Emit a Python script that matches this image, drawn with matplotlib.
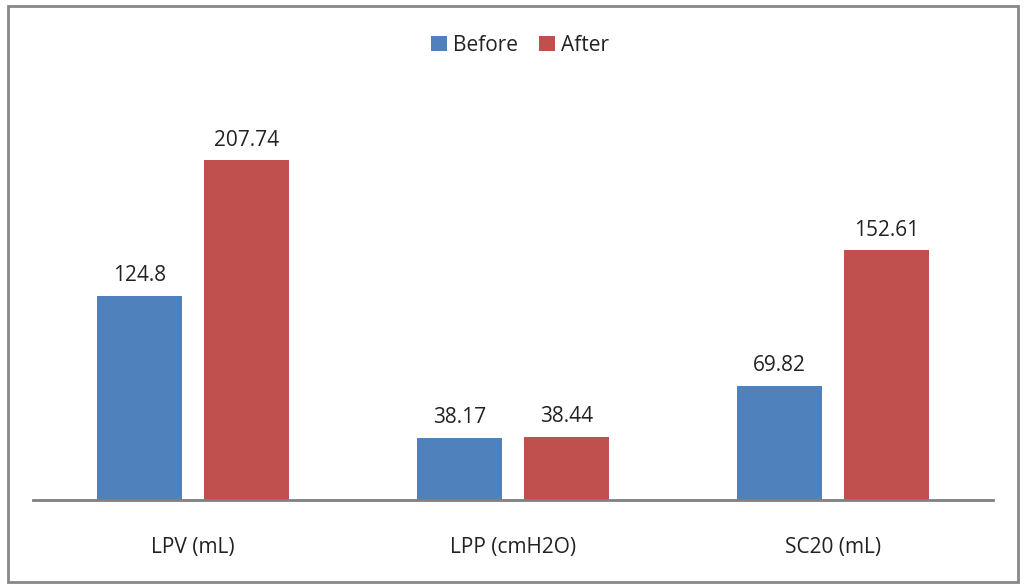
import matplotlib.pyplot as plt
import numpy as np
from matplotlib.patches import Rectangle

# Data
categories = ["LPV (mL)", "LPP (cmH2O)", "SC20 (mL)"]
before = [124.8, 38.17, 69.82]
after = [207.74, 38.44, 152.61]
series_names = ["Before", "After"]

plt.rcParams['font.family'] = ['Open Sans', 'DejaVu Sans']

fig = plt.figure(figsize=(10.24, 5.88), dpi=100)
# outer frame of the chart
fig.patches.append(Rectangle((8 / 1024, 6 / 588), 1010 / 1024, 576 / 588,
                             transform=fig.transFigure, fill=False,
                             edgecolor='#888888', linewidth=2))

ax = fig.add_axes([33 / 1024, 88 / 588, 960 / 1024, 412 / 588])

x = np.arange(len(categories))
w = 0.265
off = 0.167
b1 = ax.bar(x - off, before, w, color='#4F81BD', label=series_names[0])
b2 = ax.bar(x + off, after, w, color='#C0504D', label=series_names[1])

for bars, vals in ((b1, before), (b2, after)):
    for rect, v in zip(bars, vals):
        ax.text(rect.get_x() + rect.get_width() / 2, v + 6, f"{v:g}",
                ha='center', va='bottom', fontsize=15, color='#222222')

ax.set_xlim(-0.5, 2.5)
ax.set_ylim(0, 252)
ax.set_xticks(x)
ax.set_xticklabels(categories, fontsize=15, color='#222222')
ax.tick_params(axis='x', length=0, pad=27)
ax.set_yticks([])
for s in ('top', 'right', 'left'):
    ax.spines[s].set_visible(False)
ax.spines['bottom'].set_color('#808080')
ax.spines['bottom'].set_linewidth(2)

fig.legend(loc='center', bbox_to_anchor=(0.508, 0.923), ncol=2, frameon=False,
           fontsize=15, handlelength=0.75, handleheight=0.75, handletextpad=0.3,
           columnspacing=1.0, labelcolor='#222222')

fig.savefig("out.png", dpi=100)
